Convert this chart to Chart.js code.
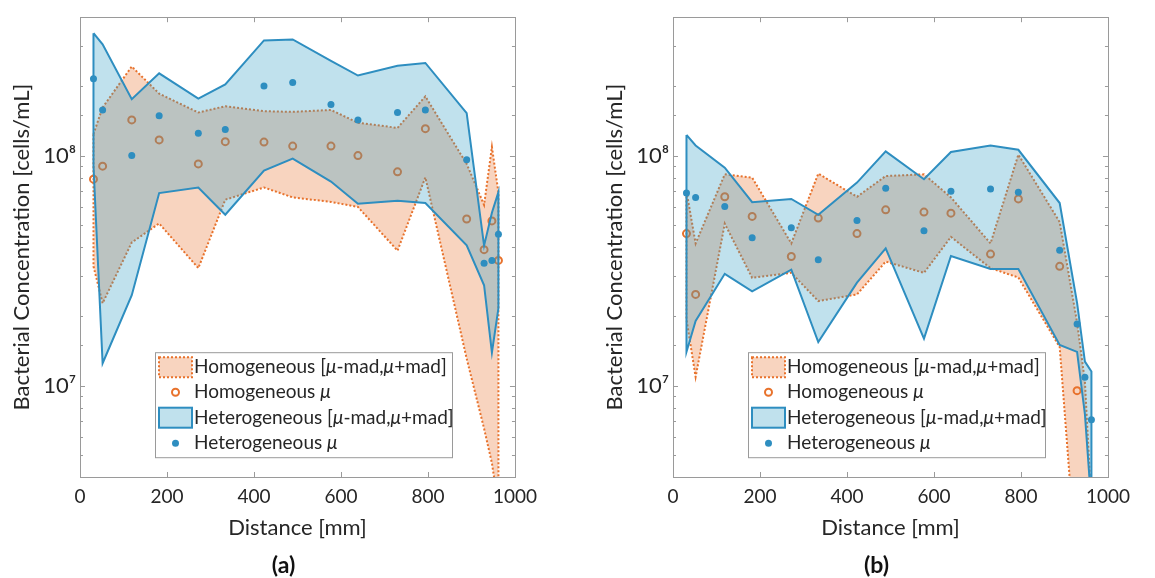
<!DOCTYPE html>
<html>
<head>
<meta charset="utf-8">
<title>Bacterial concentration vs distance</title>
<script src="https://cdn.jsdelivr.net/npm/chart.js@4.4.1/dist/chart.umd.min.js"></script>
<style>
  html, body { margin: 0; padding: 0; background: #fff; }
  #wrap { position: relative; width: 1155px; height: 578px; overflow: hidden; }
  canvas { position: absolute; top: 0; }
  #chartA { left: 0; }
  #chartB { left: 593px; }
</style>
</head>
<body>
<div id="wrap">
  <canvas id="chartA" width="545" height="578"></canvas>
  <canvas id="chartB" width="545" height="578"></canvas>
</div>
<script>
// sampling positions along the pipe (mm)
const distance = [31, 52, 119, 182, 272, 334, 423, 489, 577, 639, 730, 794, 889, 929, 947, 962];

// panel (a)
const homMuA = [7.9e7, 9.0e7, 1.43e8, 1.17e8, 9.2e7, 1.15e8, 1.145e8, 1.10e8, 1.10e8, 1.0e8, 8.5e7, 1.31e8, 5.3e7, 3.9e7, 5.2e7, 3.5e7];
const homUpA = [1.24e8, 1.62e8, 2.44e8, 1.86e8, 1.54e8, 1.64e8, 1.56e8, 1.55e8, 1.58e8, 1.39e8, 1.32e8, 1.81e8, 9.2e7, 6.1e7, 1.09e8, 6.9e7];
const homLoA = [3.3e7, 2.28e7, 4.19e7, 5.07e7, 3.24e7, 6.43e7, 7.27e7, 6.58e7, 6.29e7, 5.98e7, 3.86e7, 8.04e7, 1.31e7, 6.5e6, 4.6e6, 3.0e6];
const hetMuA = [2.16e8, 1.58e8, 1.0e8, 1.49e8, 1.25e8, 1.30e8, 2.01e8, 2.08e8, 1.67e8, 1.43e8, 1.54e8, 1.58e8, 9.6e7, 3.4e7, 3.5e7, 4.55e7];
const hetUpA = [3.41e8, 3.05e8, 1.76e8, 2.28e8, 1.77e8, 2.04e8, 3.17e8, 3.20e8, 2.58e8, 2.23e8, 2.46e8, 2.53e8, 1.53e8, 4.06e7, 5.64e7, 6.94e7];
const hetLoA = [9.0e7, 1.25e7, 2.47e7, 6.87e7, 7.27e7, 5.53e7, 8.6e7, 9.7e7, 7.71e7, 6.18e7, 6.37e7, 6.22e7, 4.07e7, 2.73e7, 1.39e7, 2.17e7];

// panel (b)
const homMuB = [4.58e7, 2.49e7, 6.62e7, 5.44e7, 3.64e7, 5.35e7, 4.58e7, 5.81e7, 5.68e7, 5.62e7, 3.73e7, 6.48e7, 3.3e7, 9.5e6, null, null];
const homUpB = [7.0e7, 4.15e7, 8.29e7, 8.02e7, 4.15e7, 8.35e7, 6.62e7, 8.15e7, 8.29e7, 6.58e7, 4.15e7, 1.01e8, 5.14e7, 1.88e7, 1.04e7, 3.0e6];
const homLoB = [1.94e7, 1.09e7, 5.06e7, 2.94e7, 3.09e7, 2.33e7, 2.49e7, 3.46e7, 3.09e7, 4.43e7, 3.24e7, 2.95e7, 1.47e7, 1.5e6, 1.2e6, 1.0e6];
const hetMuB = [6.87e7, 6.58e7, 6.0e7, 4.39e7, 4.85e7, 3.52e7, 5.22e7, 7.22e7, 4.71e7, 6.99e7, 7.15e7, 6.92e7, 3.88e7, 1.85e7, 1.085e7, 7.1e6];
const hetUpB = [1.23e8, 1.107e8, 8.86e7, 6.27e7, 6.48e7, 5.53e7, 7.63e7, 1.043e8, 7.89e7, 1.037e8, 1.107e8, 1.06e8, 6.22e7, 2.29e7, 1.27e7, 1.15e7];
const hetLoB = [1.4e7, 1.91e7, 3.06e7, 2.57e7, 3.19e7, 1.545e7, 2.8e7, 3.95e7, 1.6e7, 3.66e7, 3.21e7, 3.21e7, 1.5e7, 1.4e7, 7.5e6, 3.0e6];

// axis ticks
const xTicks = [0, 200, 400, 600, 800, 1000];
const yMin = 4e6;
const yMax = 4e8;

const FONT = 'Lato, "Open Sans", sans-serif';
const textColor = '#262626';
const boxColor = '#9a9a9a';
const homColor = '#E8722C';                 // orange, homogeneous
const homFill = 'rgba(232, 114, 44, 0.3)';
const hetColor = '#2E8EC0';                 // blue, heterogeneous
const hetFill = 'rgba(45, 155, 195, 0.3)';
const superscripts = { 6: '\u2076', 7: '\u2077', 8: '\u2078', 9: '\u2079' };

function toPoints(xs, ys) {
    return xs.map((x, i) => ({ x: x, y: ys[i] }));
}

// closed outline of a band: upper edge forward, lower edge back
function outline(xs, up, lo) {
    const top = toPoints(xs, up);
    const bottom = toPoints(xs, lo).reverse();
    return top.concat(bottom, [top[0]]);
}

// MATLAB style box with inward ticks on all four sides
const axesBox = {
    id: 'axesBox',
    afterDatasetsDraw(chart) {
        const { ctx, chartArea: a, scales: { x, y } } = chart;
        ctx.save();
        ctx.strokeStyle = boxColor;
        ctx.lineWidth = 1;
        ctx.beginPath();
        x.ticks.forEach(t => {
            const px = Math.round(x.getPixelForValue(t.value)) + 0.5;
            ctx.moveTo(px, a.bottom); ctx.lineTo(px, a.bottom - 5);
            ctx.moveTo(px, a.top); ctx.lineTo(px, a.top + 5);
        });
        y.ticks.forEach(t => {
            const e = Math.log10(t.value);
            const len = Math.abs(e - Math.round(e)) < 1e-9 ? 5 : 3;
            const py = Math.round(y.getPixelForValue(t.value)) + 0.5;
            ctx.moveTo(a.left, py); ctx.lineTo(a.left + len, py);
            ctx.moveTo(a.right, py); ctx.lineTo(a.right - len, py);
        });
        ctx.stroke();
        ctx.strokeRect(Math.round(a.left) + 0.5, Math.round(a.top) + 0.5, Math.round(a.width), Math.round(a.height));
        ctx.restore();
    }
};

function drawLabel(ctx, x, y, parts) {
    parts.forEach(p => {
        ctx.font = (p.italic ? 'italic ' : '') + '19px ' + FONT;
        ctx.fillText(p.t, x, y);
        x += ctx.measureText(p.t).width;
    });
}

const insideLegend = {
    id: 'insideLegend',
    afterDraw(chart, args, opts) {
        const { ctx, chartArea: a } = chart;
        const left = a.left + opts.left;
        const top = a.top + opts.top;
        const w = 297, h = 105;
        ctx.save();
        ctx.fillStyle = '#fff';
        ctx.fillRect(left, top, w, h);
        ctx.strokeStyle = boxColor;
        ctx.lineWidth = 1;
        ctx.strokeRect(left + 0.5, top + 0.5, w, h);

        const rowY = [top + 15, top + 40, top + 65.5, top + 91];
        const bandText = [{ t: ' [' }, { t: '\u03bc', italic: true }, { t: '-mad,' }, { t: '\u03bc', italic: true }, { t: '+mad]' }];

        // homogeneous band patch
        ctx.fillStyle = homFill;
        ctx.fillRect(left + 4, rowY[0] - 10, 33, 20);
        ctx.setLineDash([2, 2]);
        ctx.lineWidth = 2;
        ctx.strokeStyle = homColor;
        ctx.strokeRect(left + 4, rowY[0] - 10, 33, 20);
        ctx.setLineDash([]);

        // homogeneous mean marker
        ctx.beginPath();
        ctx.arc(left + 20.5, rowY[1], 3.5, 0, Math.PI * 2);
        ctx.stroke();

        // heterogeneous band patch
        ctx.fillStyle = hetFill;
        ctx.fillRect(left + 4, rowY[2] - 10, 33, 20);
        ctx.strokeStyle = hetColor;
        ctx.strokeRect(left + 4, rowY[2] - 10, 33, 20);

        // heterogeneous mean marker
        ctx.fillStyle = hetColor;
        ctx.beginPath();
        ctx.arc(left + 20.5, rowY[3], 3.5, 0, Math.PI * 2);
        ctx.fill();

        ctx.fillStyle = textColor;
        ctx.textBaseline = 'middle';
        const tx = left + 39;
        drawLabel(ctx, tx, rowY[0], [{ t: 'Homogeneous' }].concat(bandText));
        drawLabel(ctx, tx, rowY[1], [{ t: 'Homogeneous ' }, { t: '\u03bc', italic: true }]);
        drawLabel(ctx, tx, rowY[2], [{ t: 'Heterogeneous' }].concat(bandText));
        drawLabel(ctx, tx, rowY[3], [{ t: 'Heterogeneous ' }, { t: '\u03bc', italic: true }]);
        ctx.restore();
    }
};

const panelLabel = {
    id: 'panelLabel',
    afterDraw(chart, args, opts) {
        const { ctx, chartArea: a } = chart;
        ctx.save();
        ctx.font = 'bold 23px ' + FONT;
        ctx.fillStyle = '#111';
        ctx.textAlign = 'center';
        ctx.textBaseline = 'middle';
        ctx.fillText(opts.text, (a.left + a.right) / 2 - 14, 566);
        ctx.restore();
    }
};

function makeChart(canvasId, label, homMu, homUp, homLo, hetMu, hetUp, hetLo) {
    const canvas = document.getElementById(canvasId);
    const hidden = { showLine: true, borderColor: 'transparent', borderWidth: 0, pointRadius: 0 };

    const datasets = [
        Object.assign({ label: 'hom upper', data: toPoints(distance, homUp), fill: '+1', backgroundColor: homFill, order: 8 }, hidden),
        Object.assign({ label: 'hom lower', data: toPoints(distance, homLo), fill: false, order: 8 }, hidden),
        {
            label: 'Homogeneous band', data: outline(distance, homUp, homLo), showLine: true, fill: false,
            borderColor: homColor, borderWidth: 2, borderDash: [2, 2], pointRadius: 0, order: 7
        },
        {
            label: 'Homogeneous mean', data: toPoints(distance, homMu), showLine: false,
            pointRadius: 3.5, pointBorderWidth: 2, pointBorderColor: homColor, pointBackgroundColor: 'rgba(0,0,0,0)', order: 6
        },
        Object.assign({ label: 'het upper', data: toPoints(distance, hetUp), fill: '+1', backgroundColor: hetFill, order: 5 }, hidden),
        Object.assign({ label: 'het lower', data: toPoints(distance, hetLo), fill: false, order: 5 }, hidden),
        {
            label: 'Heterogeneous band', data: outline(distance, hetUp, hetLo), showLine: true, fill: false,
            borderColor: hetColor, borderWidth: 2, pointRadius: 0, order: 4
        },
        {
            label: 'Heterogeneous mean', data: toPoints(distance, hetMu), showLine: false,
            pointRadius: 3.5, pointBorderWidth: 0, pointBackgroundColor: hetColor, order: 3
        }
    ];

    return new Chart(canvas, {
        type: 'scatter',
        data: { datasets: datasets },
        plugins: [axesBox, insideLegend, panelLabel],
        options: {
            responsive: false,
            animation: false,
            devicePixelRatio: 1,
            events: [],
            layout: { padding: { left: 0, top: 12, right: 20, bottom: 26 } },
            scales: {
                x: {
                    type: 'linear', min: 0, max: 1000,
                    afterBuildTicks: s => { s.ticks = xTicks.map(v => ({ value: v })); },
                    ticks: { color: textColor, font: { family: FONT, size: 19 }, padding: 8, callback: v => String(v) },
                    grid: { display: false, drawTicks: false },
                    border: { display: false },
                    title: { display: true, text: 'Distance [mm]', color: textColor, font: { family: FONT, size: 22 }, padding: { top: 0, bottom: 11 } },
                    afterFit: s => { s.height = 75; }
                },
                y: {
                    type: 'logarithmic', min: yMin, max: yMax,
                    ticks: {
                        autoSkip: false, color: textColor, font: { family: FONT, size: 22 }, padding: 4,
                        callback: v => {
                            const e = Math.log10(v);
                            return Math.abs(e - Math.round(e)) < 1e-9 ? '10' + superscripts[Math.round(e)] : '';
                        }
                    },
                    grid: { display: false, drawTicks: false },
                    border: { display: false },
                    title: { display: true, text: 'Bacterial Concentration [cells/mL]', color: textColor, font: { family: FONT, size: 22 }, padding: { top: 9, bottom: 0 } },
                    afterFit: s => { s.width = 80; }
                }
            },
            plugins: {
                legend: { display: false },
                tooltip: { enabled: false },
                insideLegend: { left: 75, top: 335 },
                panelLabel: { text: label }
            }
        }
    });
}

makeChart('chartA', '(a)', homMuA, homUpA, homLoA, hetMuA, hetUpA, hetLoA);
makeChart('chartB', '(b)', homMuB, homUpB, homLoB, hetMuB, hetUpB, hetLoB);
</script>
</body>
</html>
